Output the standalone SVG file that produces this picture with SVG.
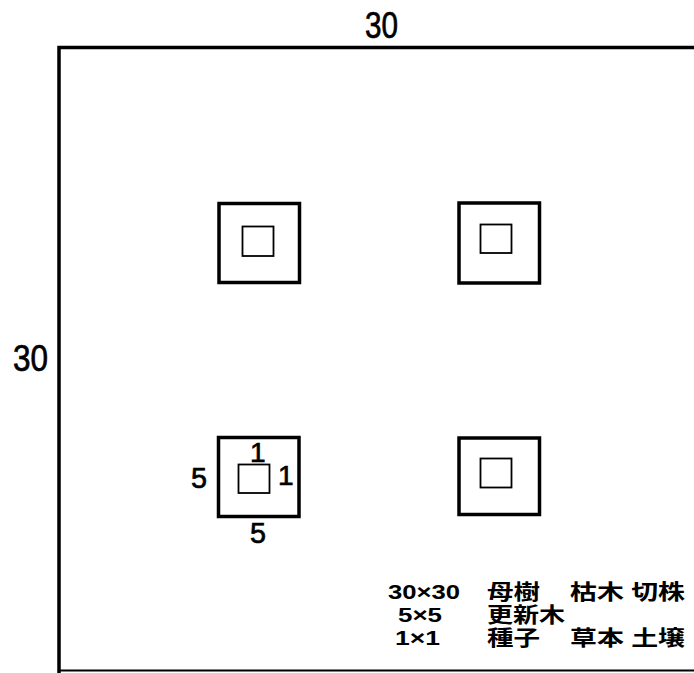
<svg xmlns="http://www.w3.org/2000/svg" width="694" height="673" viewBox="0 0 694 673">
<style>
.big{fill:none;stroke:#000;stroke-width:3.5}
.small{fill:none;stroke:#000;stroke-width:1.8}
.lbl{font-family:"Liberation Sans",Arial,sans-serif;fill:#000;stroke:#000;stroke-width:0.7}
.leg{font-family:"Liberation Sans","Noto Sans CJK JP",sans-serif;font-size:21px;font-weight:bold;fill:#000}
</style>
<rect width="694" height="673" fill="#fff"/>
<g id="plot">
<path d="M59,673 V47.5 H694" fill="none" stroke="#000" stroke-width="3.5"/>
<line x1="59" y1="670.5" x2="694" y2="670.5" stroke="#000" stroke-width="2"/>
</g>
<g id="q1"><rect class="big" x="219" y="203.5" width="80.5" height="79"/><rect class="small" x="242.5" y="226.5" width="31" height="29.5"/></g>
<g id="q2"><rect class="big" x="459" y="203" width="80.5" height="80"/><rect class="small" x="480.5" y="224.5" width="31" height="28.5"/></g>
<g id="q3"><rect class="big" x="218.5" y="437.5" width="80.5" height="79"/><rect class="small" x="238.5" y="464.5" width="31" height="28.5"/></g>
<g id="q4"><rect class="big" x="459" y="438" width="80.5" height="76.5"/><rect class="small" x="480.5" y="458.5" width="31" height="29"/></g>
<g id="labels">
<text class="lbl" x="365" y="38" font-size="36" textLength="33" lengthAdjust="spacingAndGlyphs">30</text>
<text class="lbl" x="13" y="371" font-size="36" textLength="35" lengthAdjust="spacingAndGlyphs">30</text>
<text class="lbl" x="191" y="488" font-size="30" textLength="16" lengthAdjust="spacingAndGlyphs">5</text>
<text class="lbl" x="250" y="543" font-size="29" textLength="16" lengthAdjust="spacingAndGlyphs">5</text>
<text class="lbl" x="250" y="462" font-size="28">1</text>
<text class="lbl" x="278" y="485" font-size="28">1</text>
</g>
<g id="legend">
<text class="leg" x="388" y="599" textLength="72" lengthAdjust="spacingAndGlyphs">30×30</text>
<text class="leg" x="487" y="599" textLength="53" lengthAdjust="spacingAndGlyphs">母樹</text>
<text class="leg" x="570" y="599" textLength="115" lengthAdjust="spacingAndGlyphs">枯木 切株</text>
<text class="leg" x="398" y="622" textLength="44" lengthAdjust="spacingAndGlyphs">5×5</text>
<text class="leg" x="487" y="622" textLength="78" lengthAdjust="spacingAndGlyphs">更新木</text>
<text class="leg" x="395" y="645" textLength="45" lengthAdjust="spacingAndGlyphs">1×1</text>
<text class="leg" x="487" y="645" textLength="53" lengthAdjust="spacingAndGlyphs">種子</text>
<text class="leg" x="570" y="645" textLength="115" lengthAdjust="spacingAndGlyphs">草本 土壌</text>
</g>
</svg>
